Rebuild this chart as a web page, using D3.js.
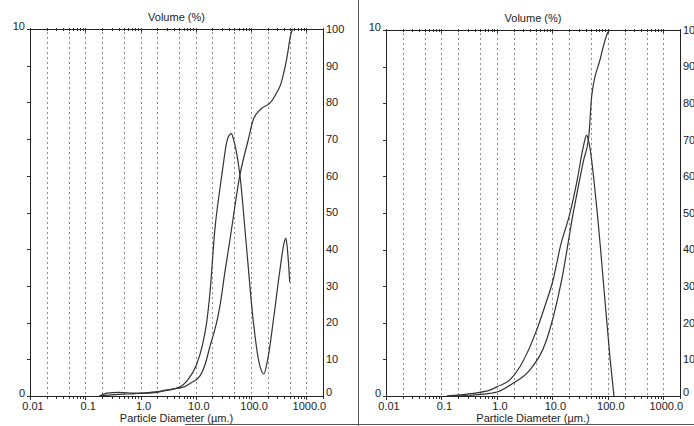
<!DOCTYPE html>
<html>
<head>
<meta charset="utf-8">
<script src="https://cdn.jsdelivr.net/npm/d3@7"></script>
<style>
  body { margin: 0; background: #fff; }
  text { font-family: "Liberation Sans", Arial, sans-serif; font-size: 11px; fill: #222; }
</style>
</head>
<body>
<script>
let w = 694;
let h = 426;

// x axis (particle size, um) - log scale
let xTicks = [0.01, 0.1, 1, 10, 100, 1000];
let xTickLabels = ["0.01", "0.1", "1.0", "10.0", "100.0", "1000.0"];
let gridValues = [0.02, 0.05, 0.1, 0.2, 0.5, 1, 2, 5, 10, 20, 50, 100, 200, 500, 1000];
let leftAxisLabels = [0, 10];
let rightAxisLabels = [0, 10, 20, 30, 40, 50, 60, 70, 80, 90, 100];

// left sample: frequency (left axis, 0-10) and cumulative (right axis, 0-100)
let leftFreqSize = [0.18, 0.25, 0.4, 0.7, 1.0, 2, 3, 5.2, 7, 10.3, 13, 15.7, 18, 22, 27, 31, 36, 40, 44, 48, 55, 63, 80, 109, 140, 170, 200, 260, 330, 400, 426, 460, 500];
let leftFreqPct  = [0, 0.08, 0.1, 0.08, 0.07, 0.1, 0.15, 0.25, 0.42, 0.85, 1.35, 2.0, 2.8, 4.5, 5.6, 6.25, 6.9, 7.1, 7.15, 7.0, 6.6, 6.0, 4.3, 2.07, 0.9, 0.6, 1.0, 2.2, 3.4, 4.2, 4.3, 3.9, 3.1];
let leftCumSize = [0.18, 0.3, 0.5, 1, 2, 3, 5.9, 8, 11.9, 15, 18, 22, 25, 28, 33, 41.4, 62.7, 88.7, 109, 144, 155, 219, 309, 331, 438, 540, 580];
let leftCumPct  = [0, 0.3, 0.5, 0.8, 1.2, 1.7, 2.4, 3.5, 5.5, 9, 13.5, 18, 21.5, 25.5, 33, 42.5, 60.2, 69.75, 75.2, 77.9, 78.4, 79.8, 83.4, 84.3, 91.6, 99.3, 100];

// right sample
let rightFreqSize = [0.125, 0.21, 0.4, 0.74, 1.0, 1.71, 2.6, 5.2, 7.5, 10.3, 14, 20.7, 28, 36, 41.4, 46, 62.8, 88.7, 110, 129];
let rightFreqPct  = [0, 0.03, 0.08, 0.16, 0.25, 0.44, 0.8, 1.8, 2.5, 3.17, 4.1, 4.99, 5.9, 6.8, 7.13, 6.9, 5.17, 2.62, 1.0, 0];
let rightCumSize = [0.125, 0.3, 0.74, 1.0, 1.96, 3.9, 7.85, 14.7, 23.7, 36, 45.6, 51, 72, 101.6, 110];
let rightCumPct  = [0, 0.2, 0.7, 1.1, 3.5, 7.1, 15.3, 31.7, 49.9, 64, 71.3, 81.8, 91.8, 99.5, 100];

let svg = d3.select("body")
            .append("svg")
            .attr("width", w)
            .attr("height", h);

svg.append("rect").attr("width", w).attr("height", h).attr("fill", "#fff");

// frame lines of the window
svg.append("line").attr("x1", 358.5).attr("x2", 358.5).attr("y1", 0).attr("y2", h)
   .attr("stroke", "#555").attr("stroke-width", 1);
svg.append("line").attr("x1", 185).attr("x2", w).attr("y1", 424.5).attr("y2", 424.5)
   .attr("stroke", "#555").attr("stroke-width", 1);

function drawPanel(x0, x1, y0, y1, freqSize, freqPct, cumSize, cumPct) {

	let x = d3.scaleLog().domain([0.01, 2000]).range([x0, x1]);
	let yL = d3.scaleLinear().domain([0, 10]).range([y1, y0]);
	let yR = d3.scaleLinear().domain([0, 100]).range([y1, y0]);

	let g = svg.append("g");

	//dotted grid
	g.selectAll(".grid")
	 .data(gridValues)
	 .enter()
	 .append("line")
	 .attr("x1", d => Math.round(x(d)) + 0.5)
	 .attr("x2", d => Math.round(x(d)) + 0.5)
	 .attr("y1", y0 + 3)
	 .attr("y2", y1)
	 .attr("stroke", "#8a8a8a")
	 .attr("stroke-dasharray", "2,3");

	//minor/major ticks on top and bottom
	let ticks = x.ticks();
	let isMajor = d => xTicks.some(t => Math.abs(t - d) / t < 1e-6);
	g.selectAll(".tb")
	 .data(ticks)
	 .enter()
	 .append("line")
	 .attr("x1", d => Math.round(x(d)) + 0.5)
	 .attr("x2", d => Math.round(x(d)) + 0.5)
	 .attr("y1", y1)
	 .attr("y2", d => y1 + (isMajor(d) ? 4 : 3))
	 .attr("stroke", "#333");
	g.selectAll(".tt")
	 .data(ticks)
	 .enter()
	 .append("line")
	 .attr("x1", d => Math.round(x(d)) + 0.5)
	 .attr("x2", d => Math.round(x(d)) + 0.5)
	 .attr("y1", y0 - 1)
	 .attr("y2", d => y0 + (isMajor(d) ? 3 : 2))
	 .attr("stroke", "#333");

	//left axis ticks
	g.selectAll(".tl")
	 .data(d3.range(0, 11))
	 .enter()
	 .append("line")
	 .attr("x1", x0 - 3)
	 .attr("x2", x0)
	 .attr("y1", d => Math.round(yL(d)) + 0.5)
	 .attr("y2", d => Math.round(yL(d)) + 0.5)
	 .attr("stroke", "#333");

	//box
	g.append("rect")
	 .attr("x", x0 + 0.5)
	 .attr("y", y0 + 0.5)
	 .attr("width", x1 - x0)
	 .attr("height", y1 - y0)
	 .attr("fill", "none")
	 .attr("stroke", "#222");

	//x labels
	g.selectAll(".xl")
	 .data(xTicks)
	 .enter()
	 .append("text")
	 .attr("x", d => x(d) + 3)
	 .attr("y", y1 + 14)
	 .attr("text-anchor", "middle")
	 .text((d, i) => xTickLabels[i]);

	//left labels
	g.selectAll(".ll")
	 .data(leftAxisLabels)
	 .enter()
	 .append("text")
	 .attr("x", x0 - 5)
	 .attr("y", d => yL(d) - 3)
	 .attr("dy", "0.35em")
	 .attr("text-anchor", "end")
	 .text(d => d);

	//right labels
	g.selectAll(".rl")
	 .data(rightAxisLabels)
	 .enter()
	 .append("text")
	 .attr("x", x1 + 3)
	 .attr("y", d => d == 0 ? yR(d) - 4 : yR(d))
	 .attr("dy", "0.35em")
	 .text(d => d);

	//titles
	g.append("text")
	 .attr("x", (x0 + x1) / 2)
	 .attr("y", y0 - 8)
	 .attr("text-anchor", "middle")
	 .text("Volume (%)");
	g.append("text")
	 .attr("x", (x0 + x1) / 2)
	 .attr("y", 422)
	 .attr("text-anchor", "middle")
	 .text("Particle Diameter (µm.)");

	//curves
	let freqLine = d3.line()
	                 .x(d => x(d[0]))
	                 .y(d => yL(d[1]))
	                 .curve(d3.curveMonotoneX);
	let cumLine = d3.line()
	                .x(d => x(d[0]))
	                .y(d => yR(d[1]))
	                .curve(d3.curveMonotoneX);

	g.append("path")
	 .attr("d", freqLine(d3.zip(freqSize, freqPct)))
	 .attr("fill", "none")
	 .attr("stroke", "#333")
	 .attr("stroke-width", 1.2);
	g.append("path")
	 .attr("d", cumLine(d3.zip(cumSize, cumPct)))
	 .attr("fill", "none")
	 .attr("stroke", "#333")
	 .attr("stroke-width", 1.2);
}

drawPanel(30, 323, 29, 396, leftFreqSize, leftFreqPct, leftCumSize, leftCumPct);
drawPanel(386, 680, 30, 396, rightFreqSize, rightFreqPct, rightCumSize, rightCumPct);
</script>
</body>
</html>
